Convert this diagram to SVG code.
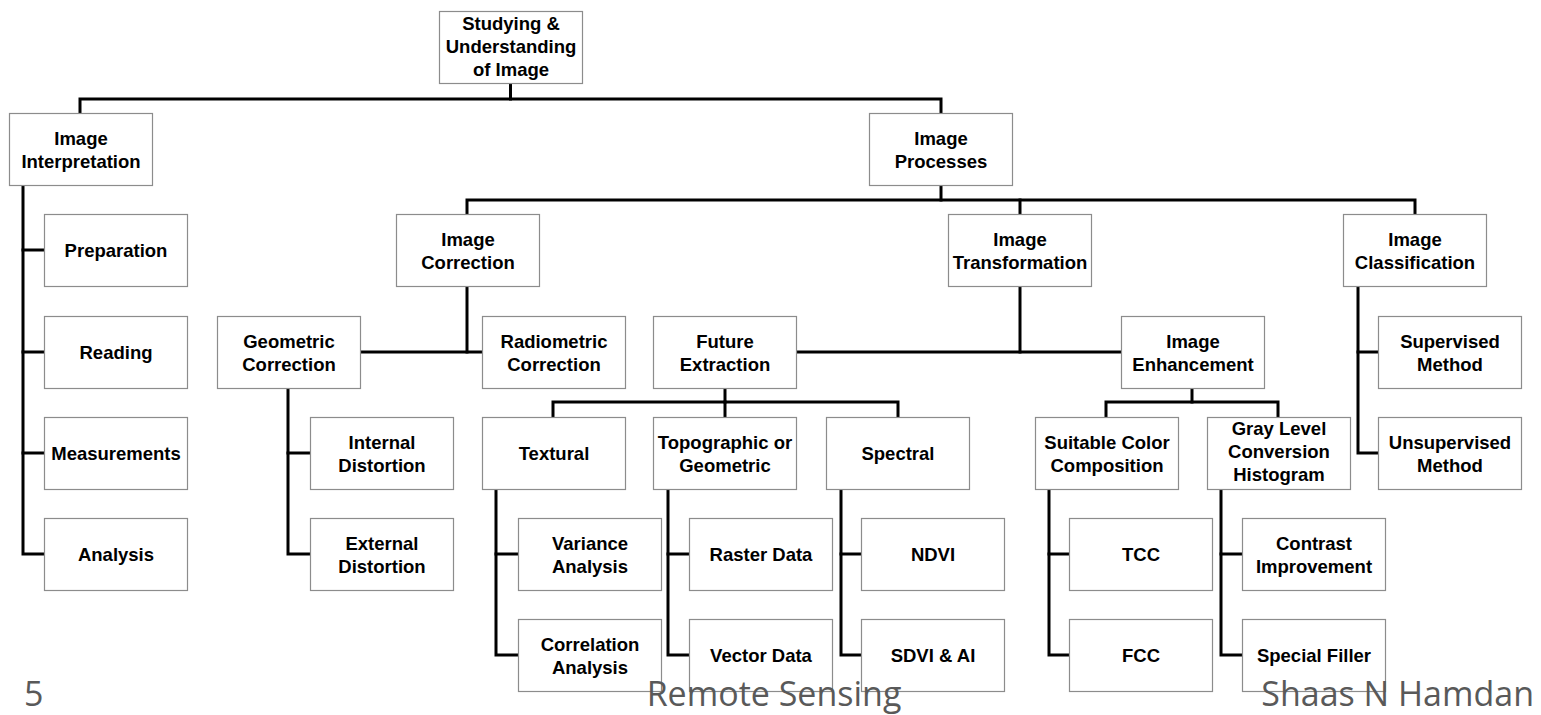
<svg xmlns="http://www.w3.org/2000/svg" width="1541" height="715" viewBox="0 0 1541 715">
  <style>
    .box rect { fill: #ffffff; stroke: #8c8c8c; stroke-width: 1.2; }
    .box text { font-family: "Liberation Sans", Arial, sans-serif; font-weight: bold; font-size: 18.5px; fill: #000000; text-anchor: middle; }
    #connectors path { fill: none; stroke: #000000; stroke-width: 3; stroke-linejoin: miter; stroke-linecap: square; }
    .footer { font-family: "Open Sans", "DejaVu Sans", sans-serif; font-size: 34px; fill: #595959; }
  </style>
  <rect width="1541" height="715" fill="#ffffff"/>

  <!-- tree connectors -->
  <g id="connectors">
    <path d="M510.5 84 V99"/>
    <path d="M80 112 V99 H941 V112"/>
    <path d="M941 186 V200"/>
    <path d="M467 213 V200 H1415 V213"/>
    <path d="M1020 200 V213"/>
    <!-- Image Interpretation -->
    <path d="M23 186 V554 H43"/>
    <path d="M23 250 H43"/>
    <path d="M23 352 H43"/>
    <path d="M23 453 H43"/>
    <!-- Image Correction -->
    <path d="M467 287 V352"/>
    <path d="M361 352 H481"/>
    <path d="M288 389 V554 H309"/>
    <path d="M288 453 H309"/>
    <!-- Image Transformation -->
    <path d="M1020 287 V352"/>
    <path d="M797 352 H1120"/>
    <path d="M725 389 V402"/>
    <path d="M553 416 V402 H898 V416"/>
    <path d="M725 402 V416"/>
    <path d="M496 490 V655 H517"/>
    <path d="M496 554 H517"/>
    <path d="M668 490 V655 H688"/>
    <path d="M668 554 H688"/>
    <path d="M841 490 V655 H860"/>
    <path d="M841 554 H860"/>
    <path d="M1192 389 V402"/>
    <path d="M1106 416 V402 H1278 V416"/>
    <path d="M1049 490 V655 H1068"/>
    <path d="M1049 554 H1068"/>
    <path d="M1221 490 V655 H1241"/>
    <path d="M1221 554 H1241"/>
    <!-- Image Classification -->
    <path d="M1358 287 V453 H1377"/>
    <path d="M1358 352 H1377"/>
  </g>

  <!-- level 0 -->
  <g id="studying" class="box"><rect x="439.5" y="11.5" width="143" height="72"/>
    <text><tspan x="511" y="30">Studying &amp;</tspan><tspan x="511" y="53">Understanding</tspan><tspan x="511" y="76">of Image</tspan></text></g>

  <!-- level 1 -->
  <g id="interpretation" class="box"><rect x="9.5" y="113.5" width="143" height="72"/>
    <text><tspan x="81" y="145">Image</tspan><tspan x="81" y="168">Interpretation</tspan></text></g>
  <g id="processes" class="box"><rect x="869.5" y="113.5" width="143" height="72"/>
    <text><tspan x="941" y="145">Image</tspan><tspan x="941" y="168">Processes</tspan></text></g>

  <!-- interpretation steps -->
  <g id="preparation" class="box"><rect x="44.5" y="214.5" width="143" height="72"/>
    <text x="116" y="257">Preparation</text></g>
  <g id="reading" class="box"><rect x="44.5" y="316.5" width="143" height="72"/>
    <text x="116" y="359">Reading</text></g>
  <g id="measurements" class="box"><rect x="44.5" y="417.5" width="143" height="72"/>
    <text x="116" y="460">Measurements</text></g>
  <g id="analysis" class="box"><rect x="44.5" y="518.5" width="143" height="72"/>
    <text x="116" y="561">Analysis</text></g>

  <!-- processes level 2 -->
  <g id="correction" class="box"><rect x="396.5" y="214.5" width="143" height="72"/>
    <text><tspan x="468" y="246">Image</tspan><tspan x="468" y="269">Correction</tspan></text></g>
  <g id="transformation" class="box"><rect x="948.5" y="214.5" width="143" height="72"/>
    <text><tspan x="1020" y="246">Image</tspan><tspan x="1020" y="269">Transformation</tspan></text></g>
  <g id="classification" class="box"><rect x="1343.5" y="214.5" width="143" height="72"/>
    <text><tspan x="1415" y="246">Image</tspan><tspan x="1415" y="269">Classification</tspan></text></g>

  <!-- level 3 -->
  <g id="geometric" class="box"><rect x="217.5" y="316.5" width="143" height="72"/>
    <text><tspan x="289" y="348">Geometric</tspan><tspan x="289" y="371">Correction</tspan></text></g>
  <g id="radiometric" class="box"><rect x="482.5" y="316.5" width="143" height="72"/>
    <text><tspan x="554" y="348">Radiometric</tspan><tspan x="554" y="371">Correction</tspan></text></g>
  <g id="future" class="box"><rect x="653.5" y="316.5" width="143" height="72"/>
    <text><tspan x="725" y="348">Future</tspan><tspan x="725" y="371">Extraction</tspan></text></g>
  <g id="enhancement" class="box"><rect x="1121.5" y="316.5" width="143" height="72"/>
    <text><tspan x="1193" y="348">Image</tspan><tspan x="1193" y="371">Enhancement</tspan></text></g>
  <g id="supervised" class="box"><rect x="1378.5" y="316.5" width="143" height="72"/>
    <text><tspan x="1450" y="348">Supervised</tspan><tspan x="1450" y="371">Method</tspan></text></g>

  <!-- level 4 -->
  <g id="internal" class="box"><rect x="310.5" y="417.5" width="143" height="72"/>
    <text><tspan x="382" y="449">Internal</tspan><tspan x="382" y="472">Distortion</tspan></text></g>
  <g id="textural" class="box"><rect x="482.5" y="417.5" width="143" height="72"/>
    <text x="554" y="460">Textural</text></g>
  <g id="topographic" class="box"><rect x="653.5" y="417.5" width="143" height="72"/>
    <text><tspan x="725" y="449">Topographic or</tspan><tspan x="725" y="472">Geometric</tspan></text></g>
  <g id="spectral" class="box"><rect x="826.5" y="417.5" width="143" height="72"/>
    <text x="898" y="460">Spectral</text></g>
  <g id="suitable" class="box"><rect x="1035.5" y="417.5" width="143" height="72"/>
    <text><tspan x="1107" y="449">Suitable Color</tspan><tspan x="1107" y="472">Composition</tspan></text></g>
  <g id="graylevel" class="box"><rect x="1207.5" y="417.5" width="143" height="72"/>
    <text><tspan x="1279" y="435">Gray Level</tspan><tspan x="1279" y="458">Conversion</tspan><tspan x="1279" y="481">Histogram</tspan></text></g>
  <g id="unsupervised" class="box"><rect x="1378.5" y="417.5" width="143" height="72"/>
    <text><tspan x="1450" y="449">Unsupervised</tspan><tspan x="1450" y="472">Method</tspan></text></g>

  <!-- level 5 -->
  <g id="external" class="box"><rect x="310.5" y="518.5" width="143" height="72"/>
    <text><tspan x="382" y="550">External</tspan><tspan x="382" y="573">Distortion</tspan></text></g>
  <g id="variance" class="box"><rect x="518.5" y="518.5" width="143" height="72"/>
    <text><tspan x="590" y="550">Variance</tspan><tspan x="590" y="573">Analysis</tspan></text></g>
  <g id="raster" class="box"><rect x="689.5" y="518.5" width="143" height="72"/>
    <text x="761" y="561">Raster Data</text></g>
  <g id="ndvi" class="box"><rect x="861.5" y="518.5" width="143" height="72"/>
    <text x="933" y="561">NDVI</text></g>
  <g id="tcc" class="box"><rect x="1069.5" y="518.5" width="143" height="72"/>
    <text x="1141" y="561">TCC</text></g>
  <g id="contrast" class="box"><rect x="1242.5" y="518.5" width="143" height="72"/>
    <text><tspan x="1314" y="550">Contrast</tspan><tspan x="1314" y="573">Improvement</tspan></text></g>

  <!-- level 6 -->
  <g id="correlation" class="box"><rect x="518.5" y="619.5" width="143" height="72"/>
    <text><tspan x="590" y="651">Correlation</tspan><tspan x="590" y="674">Analysis</tspan></text></g>
  <g id="vector" class="box"><rect x="689.5" y="619.5" width="143" height="72"/>
    <text x="761" y="662">Vector Data</text></g>
  <g id="sdvi" class="box"><rect x="861.5" y="619.5" width="143" height="72"/>
    <text x="933" y="662">SDVI &amp; AI</text></g>
  <g id="fcc" class="box"><rect x="1069.5" y="619.5" width="143" height="72"/>
    <text x="1141" y="662">FCC</text></g>
  <g id="special" class="box"><rect x="1242.5" y="619.5" width="143" height="72"/>
    <text x="1314" y="662">Special Filler</text></g>

  <!-- slide footer -->
  <g id="footer">
    <text class="footer" x="24" y="706">5</text>
    <text class="footer" x="774" y="706" text-anchor="middle">Remote Sensing</text>
    <text class="footer" x="1534" y="706" text-anchor="end">Shaas N Hamdan</text>
  </g>
</svg>
